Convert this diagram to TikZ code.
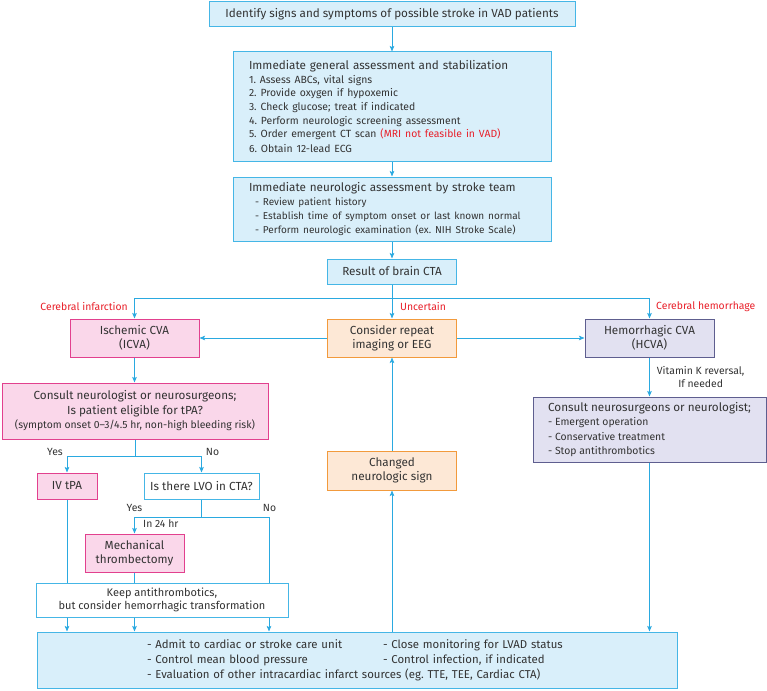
\documentclass[tikz,border=0pt]{standalone}
\usepackage{fontspec}
\setmainfont{Fira Sans}
\usepackage{xcolor}
\usetikzlibrary{positioning, arrows.meta, calc}
\frenchspacing

\definecolor{skyline}{HTML}{45B6E6}
\definecolor{skyfill}{HTML}{D9EFFA}
\definecolor{arrowblue}{HTML}{2AA9E0}
\definecolor{pinkline}{HTML}{E2408E}
\definecolor{pinkfill}{HTML}{FAD7EA}
\definecolor{orangeline}{HTML}{F29A3C}
\definecolor{orangefill}{HTML}{FDE8D6}
\definecolor{purpleline}{HTML}{5E5E8F}
\definecolor{purplefill}{HTML}{E2E1F1}
\definecolor{alertred}{HTML}{E8202A}
\definecolor{textgray}{HTML}{333333}

\newcommand{\bigtxt}{\fontsize{11.7}{14.5}\selectfont}
\newcommand{\smalltxt}{\fontsize{10.4}{13.6}\selectfont}
\newcommand{\listtxt}{\fontsize{10}{14}\selectfont}
\newcommand{\keeptxt}{\fontsize{11}{13.5}\selectfont}
\newcommand{\caretxt}{\fontsize{11.4}{15}\selectfont}

\tikzset{
  stepbox/.style={
    draw=#1line, fill=#1fill, line width=1pt,
    align=center, font=\bigtxt, text=textgray
  },
  whitebox/.style={
    draw=skyline, fill=white, line width=1pt,
    align=center, font=\bigtxt, text=textgray
  },
  flow/.style={-{Stealth[length=5.5pt, width=4.5pt, inset=1pt]}, arrowblue, line width=0.9pt},
  joint/.style={arrowblue, line width=0.9pt},
  branch/.style={font=\smalltxt, text=alertred, inner sep=1pt},
  answer/.style={font=\smalltxt, text=textgray, inner sep=1pt}
}

\begin{document}
\begin{tikzpicture}[x=1pt, y=-1pt]
\useasboundingbox (0,0) rectangle (767,690);

%% Initial assessment
\node[stepbox=sky, minimum width=366pt, minimum height=25pt] (identify) at (392,14.5)
  {Identify signs and symptoms of possible stroke in VAD patients};
\node[stepbox=sky, minimum width=318pt, minimum height=109pt, text width=286pt, align=left] (general) at (392,106.5)
  {Immediate general assessment and stabilization\\
   \smalltxt 1. Assess ABCs, vital signs\\
   2. Provide oxygen if hypoxemic\\
   3. Check glucose; treat if indicated\\
   4. Perform neurologic screening assessment\\
   5. Order emergent CT scan \textcolor{alertred}{(MRI not feasible in VAD)}\\
   6. Obtain 12-lead ECG};
\node[stepbox=sky, minimum width=318pt, minimum height=64pt, text width=286pt, align=left] (neuro) at (392,209)
  {Immediate neurologic assessment by stroke team\\
   \listtxt\hspace*{6pt}- Review patient history\\
   \hspace*{6pt}- Establish time of symptom onset or last known normal\\
   \hspace*{6pt}- Perform neurologic examination (ex. NIH Stroke Scale)};
\node[stepbox=sky, minimum width=129pt, minimum height=25pt] (result) at (392,271.5) {Result of brain CTA};
\coordinate (split) at (392,298);

%% CTA result
\node[stepbox=pink, minimum width=129pt, minimum height=38pt] (icva) at (134.5,338) {Ischemic CVA\\(ICVA)};
\node[stepbox=orange, minimum width=129pt, minimum height=38pt] (repeat) at (392,338) {Consider repeat\\imaging or EEG};
\node[stepbox=purple, minimum width=129pt, minimum height=38pt] (hcva) at (649.5,338) {Hemorrhagic CVA\\(HCVA)};
\node[branch, anchor=east] (infarct) at (129,307) {Cerebral infarction};
\node[branch, anchor=west] (uncertain) at (399,307) {Uncertain};
\node[branch, anchor=west] (bleed) at (655,307) {Cerebral hemorrhage};

%% Ischemic branch
\node[stepbox=pink, minimum width=266pt, minimum height=56pt] (elig) at (135,411)
  {Consult neurologist or neurosurgeons;\\ Is patient eligible for tPA?\\ \smalltxt (symptom onset 0--3/4.5 hr, non-high bleeding risk)};
\coordinate (yesno) at (135,456);
\node[answer] (yes1) at (55,452) {Yes};
\node[answer] (no1) at (212.5,452) {No};
\node[stepbox=pink, minimum width=60pt, minimum height=26pt] (ivtpa) at (67,486) {IV tPA};
\node[whitebox, minimum width=115pt, minimum height=26pt] (lvo) at (201.5,486) {Is there LVO in CTA?};
\coordinate (lvosplit) at (201.5,517);
\node[answer] (yes2) at (134.5,508) {Yes};
\node[answer] (no2) at (269.5,508) {No};
\node[answer, anchor=west] (within) at (142,524) {In 24 hr};
\node[stepbox=pink, minimum width=99pt, minimum height=38pt] (mech) at (134.5,553) {Mechanical\\thrombectomy};
\node[whitebox, minimum width=252pt, minimum height=34pt, font=\keeptxt] (keep) at (162,600)
  {Keep antithrombotics,\\ but consider hemorrhagic transformation};
\coordinate (lvono) at (269,583);

%% Hemorrhagic branch and follow-up
\node[stepbox=purple, minimum width=233pt, minimum height=65pt, align=left] (hconsult) at (649.5,429.5)
  {Consult neurosurgeons or neurologist;\\
   \smalltxt - Emergent operation\\
   \smalltxt - Conservative treatment\\
   \smalltxt - Stop antithrombotics};
\node[stepbox=orange, minimum width=129pt, minimum height=39pt] (changed) at (392,470.5) {Changed\\neurologic sign};
\node[stepbox=sky, minimum width=640pt, minimum height=56pt, text width=420pt, align=left, font=\caretxt] (care) at (357,660)
  {\makebox[236pt][l]{- Admit to cardiac or stroke care unit}- Close monitoring for LVAD status\\
   \makebox[236pt][l]{- Control mean blood pressure}- Control infection, if indicated\\
   - Evaluation of other intracardiac infarct sources (eg. TTE, TEE, Cardiac CTA)};

%% Connectors
\draw[flow] (identify) -- (general);
\draw[flow] (general) -- (neuro);
\draw[flow] (neuro) -- (result);
\draw[joint] (result) -- (split);
\draw[flow] (split) -| (icva);
\draw[flow] (split) -- (repeat);
\draw[flow] (split) -| (hcva);
\draw[flow] (repeat) -- (icva);
\draw[flow] (repeat) -- (hcva);
\draw[flow] (icva.south) -- (icva.south |- elig.north);
\draw[flow] (hcva) -- (hconsult)
  node[midway, right=6pt, answer, align=center] (vitk) {Vitamin K reversal,\\ If needed};
\draw[joint] (elig) -- (yesno);
\draw[flow] (yesno) -| (ivtpa);
\draw[flow] (yesno) -| (lvo);
\draw[joint] (lvo) -- (lvosplit);
\draw[flow] (lvosplit) -| (mech);
\draw[joint] (lvosplit) -| (lvono);
\draw[joint] (ivtpa) -- (ivtpa |- keep.north);
\draw[joint] (mech) -- (mech |- keep.north);
\foreach \src in {ivtpa, mech, lvono}
  \draw[flow] (keep.south -| \src) -- (care.north -| \src);
\draw[flow] (hconsult) -- (hconsult |- care.north);
\draw[flow] (care.north -| changed) -- (changed);
\draw[flow] (changed) -- (repeat);
\end{tikzpicture}
\end{document}
